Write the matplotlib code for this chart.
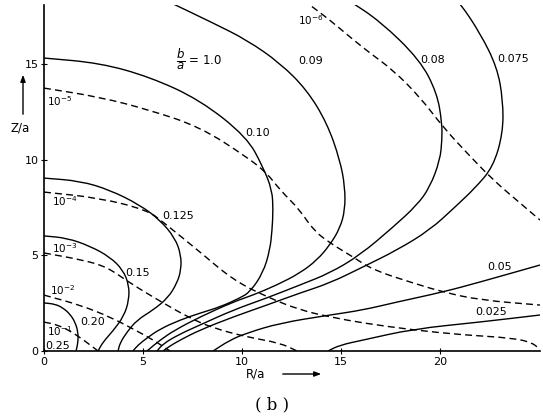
import matplotlib
matplotlib.use("Agg")
import matplotlib.pyplot as plt
from matplotlib.path import Path
from matplotlib.patches import PathPatch, FancyArrowPatch

# ---- data: solid contours (b/a values), R/a and Z/a points ----
r_020 = [0, 0.56, 0.96, 1.31, 1.57, 1.72, 1.72, 1.62]
z_020 = [2.51, 2.45, 2.25, 1.93, 1.51, 0.99, 0.47, 0]

r_015 = [0, 1.16, 2.32, 3.33, 3.99, 4.29, 4.29, 4.04, 3.48, 2.98, 2.73]
z_015 = [6.01, 5.90, 5.48, 4.91, 4.23, 3.45, 2.66, 1.83, 1.04, 0.47, 0]

r_0125 = [0, 1.82, 3.33, 4.85, 5.86, 6.62, 6.92, 6.92, 6.72, 6.26, 5.51, 4.70, 4.19, 3.84, 3.74]
z_0125 = [9.03, 8.88, 8.41, 7.62, 6.84, 5.90, 5.01, 4.23, 3.55, 2.77, 2.14, 1.62, 0.99, 0.42, 0]

r_010 = [0, 2.83, 5.35, 7.88, 10.25, 11.06, 11.52, 11.57, 11.52, 11.41, 11.06, 10.40,
         9.90, 8.89, 7.88, 6.87, 5.86, 5.20, 4.75, 4.49]
z_010 = [15.30, 15.04, 14.31, 13.11, 11.17, 9.61, 8.41, 7.36, 6.32, 5.27, 4.07, 3.08,
         2.77, 2.30, 1.98, 1.62, 1.15, 0.68, 0.31, 0]

r_009 = [6.11, 8.54, 10.25, 11.92, 13.28, 14.29, 14.95, 15.20, 15.20, 14.95, 14.44, 13.79,
         12.93, 11.77, 10.56, 9.55, 7.88, 6.62, 5.86, 5.20]
z_009 = [18.33, 17.13, 16.24, 15.04, 13.63, 11.91, 9.97, 8.56, 7.36, 6.42, 5.54, 4.75,
         4.07, 3.45, 2.92, 2.56, 1.78, 1.10, 0.57, 0]

r_008 = [15.35, 16.97, 18.99, 19.85, 20.10, 20.10, 20.0, 19.49, 18.84, 17.63, 15.96,
         14.44, 12.93, 11.26, 9.55, 7.88, 6.77, 6.01, 5.71]
z_008 = [18.33, 17.23, 15.20, 13.47, 11.91, 11.02, 9.97, 8.56, 7.62, 6.47, 5.01,
         4.07, 3.45, 2.77, 2.14, 1.36, 0.84, 0.37, 0]

r_0075 = [20.76, 21.01, 22.02, 22.88, 23.18, 23.18, 22.68, 21.77, 20.76, 19.49, 17.83, 16.11,
          14.44, 12.93, 11.26, 9.55, 7.88, 6.87, 6.36, 6.01]
z_0075 = [18.33, 18.17, 16.61, 14.83, 13.11, 11.38, 9.61, 8.51, 7.52, 6.32, 5.27, 4.39,
          3.55, 3.03, 2.40, 1.78, 1.10, 0.57, 0.26, 0]

r_005 = [8.54, 9.39, 10.25, 11.92, 14.44, 16.11, 17.83, 20.15, 22.02, 25.05]
z_005 = [0, 0.57, 0.94, 1.46, 1.88, 2.14, 2.56, 3.08, 3.60, 4.49]

r_0025 = [14.34, 14.95, 16.11, 18.64, 22.02, 25.05]
z_0025 = [0, 0.31, 0.57, 1.15, 1.51, 1.88]

# ---- data: dashed contours (powers of ten) ----
r_e1 = [0, 0.71, 1.41, 2.07, 2.73]
z_e1 = [1.51, 1.36, 0.99, 0.52, 0]

r_e2 = [0, 1.82, 3.33, 4.60, 5.61, 6.36]
z_e2 = [2.92, 2.40, 1.78, 1.10, 0.52, 0]

r_e3 = [0, 1.97, 3.18, 4.34, 6.01, 7.37, 8.54, 10.25, 11.92, 12.78]
z_e3 = [5.12, 4.75, 4.39, 3.55, 2.51, 1.72, 1.20, 0.73, 0.42, 0]

r_e4 = [0, 2.83, 5.20, 6.01, 7.88, 9.55, 11.26, 12.93, 14.44, 16.11, 18.64, 21.16, 23.69, 24.70, 25.05]
z_e4 = [8.30, 7.99, 7.36, 6.74, 5.17, 3.71, 2.82, 2.14, 1.78, 1.46, 1.10, 0.84, 0.68, 0.42, 0.05]

r_e5 = [0, 2.83, 5.35, 7.88, 10.25, 11.26, 11.92, 12.93, 13.59, 14.44, 15.61, 16.62,
        18.64, 20.15, 22.02, 25.05]
z_e5 = [13.73, 13.26, 12.58, 11.70, 10.13, 9.29, 8.41, 7.36, 6.32, 5.64, 4.91, 4.23,
        3.55, 3.08, 2.66, 2.40]

r_e6 = [13.08, 13.43, 14.44, 15.45, 16.46, 17.63, 18.99, 20.15, 21.36, 22.68, 24.04, 25.05]
z_e6 = [18.33, 18.07, 17.28, 16.40, 15.56, 14.67, 13.26, 11.70, 10.34, 8.93, 7.73, 6.84]

solid_curves = [(r_020, z_020), (r_015, z_015), (r_0125, z_0125), (r_010, z_010),
                (r_009, z_009), (r_008, z_008), (r_0075, z_0075), (r_005, z_005),
                (r_0025, z_0025)]
dashed_curves = [(r_e1, z_e1), (r_e2, z_e2), (r_e3, z_e3), (r_e4, z_e4),
                 (r_e5, z_e5), (r_e6, z_e6)]

# labels: text, R, Z
solid_labels = [("0.25", 0.05, 0.26), ("0.20", 1.82, 1.51), ("0.15", 4.09, 4.07),
                ("0.125", 5.96, 7.05), ("0.10", 10.15, 11.38), ("0.09", 12.83, 15.14),
                ("0.08", 18.99, 15.2), ("0.075", 22.88, 15.25), ("0.05", 22.37, 4.39),
                ("0.025", 21.77, 2.04)]
dashed_labels = [(r"$10^{-1}$", 0.15, 1.04), (r"$10^{-2}$", 0.3, 3.19), (r"$10^{-3}$", 0.4, 5.38),
                 (r"$10^{-4}$", 0.4, 7.83), (r"$10^{-5}$", 0.15, 13.05), (r"$10^{-6}$", 12.83, 17.28)]
ba_label = (r"$\dfrac{b}{a}$ = 1.0", 6.67, 15.2)

x_ticks = [0, 5, 10, 15, 20]
y_ticks = [0, 5, 10, 15]


def smooth_path(r, z):
    """Polyline rendered as a smooth stroke: vertices act as quadratic control points."""
    pts = list(zip(r, z))
    verts = [pts[0]]
    codes = [Path.MOVETO]
    if len(pts) <= 2:
        verts.append(pts[-1])
        codes.append(Path.LINETO)
        return Path(verts, codes)
    mids = [((pts[i][0] + pts[i + 1][0]) / 2, (pts[i][1] + pts[i + 1][1]) / 2)
            for i in range(len(pts) - 1)]
    verts.append(mids[0])
    codes.append(Path.LINETO)
    for i in range(1, len(pts) - 1):
        verts += [pts[i], mids[i]]
        codes += [Path.CURVE3, Path.CURVE3]
    verts.append(pts[-1])
    codes.append(Path.LINETO)
    return Path(verts, codes)


plt.rcParams["mathtext.fontset"] = "dejavusans"
fig = plt.figure(figsize=(5.43, 4.19), dpi=100)
ax = fig.add_axes([44 / 543, 68 / 419, 496 / 543, 346 / 419])
ax.set_xlim(0, 25.05)
ax.set_ylim(0, 18.07)

for r, z in solid_curves:
    ax.add_patch(PathPatch(smooth_path(r, z), fill=False, edgecolor="black", lw=1.0,
                           transform=ax.transData, capstyle="butt"))
for r, z in dashed_curves:
    ax.add_patch(PathPatch(smooth_path(r, z), fill=False, edgecolor="black", lw=1.0,
                           linestyle=(0, (5, 3)), transform=ax.transData))

for t, r, z in solid_labels:
    ax.text(r, z, t, fontsize=8, ha="left", va="center")
for t, r, z in dashed_labels:
    ax.text(r, z, t, fontsize=7.5, ha="left", va="center")
ax.text(ba_label[1], ba_label[2], ba_label[0], fontsize=8.5, ha="left", va="center")

for s in ["top", "right"]:
    ax.spines[s].set_visible(False)
for s in ["left", "bottom"]:
    ax.spines[s].set_linewidth(1.2)
ax.set_xticks(x_ticks)
ax.set_yticks(y_ticks)
ax.tick_params(direction="inout", length=4, width=0.8, labelsize=8, pad=2)

# axis titles with arrows
fig.text(20 / 543, 1 - 128 / 419, "Z/a", fontsize=8.5, ha="center", va="center")
fig.add_artist(FancyArrowPatch(
    (23 / 543, 1 - 117 / 419), (23 / 543, 1 - 72 / 419), transform=fig.transFigure,
    arrowstyle="-|>,head_length=4,head_width=1.5", color="black", lw=1.0))
fig.text(256 / 543, 1 - 374 / 419, "R/a", fontsize=8.5, ha="center", va="center")
fig.add_artist(FancyArrowPatch(
    (280 / 543, 1 - 374 / 419), (324 / 543, 1 - 374 / 419), transform=fig.transFigure,
    arrowstyle="-|>,head_length=4,head_width=1.5", color="black", lw=1.0))
fig.text(272 / 543, 1 - 405 / 419, "( b )", fontsize=12, ha="center", va="center",
         family="DejaVu Serif")

fig.savefig("out.png", dpi=100)
